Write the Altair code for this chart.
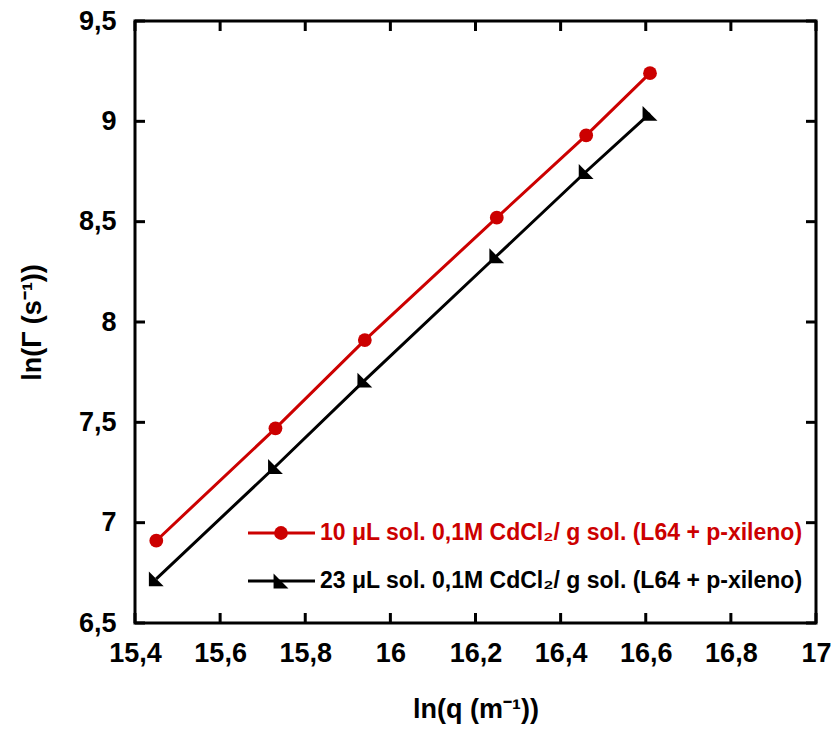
import altair as alt
import pandas as pd

# ---- data ----
ln_q = [15.45, 15.73, 15.94, 16.25, 16.46, 16.61]
ln_gamma_10 = [6.91, 7.47, 7.91, 8.52, 8.93, 9.24]
ln_gamma_23 = [6.72, 7.28, 7.71, 8.33, 8.75, 9.04]
label_10 = "10 μL sol. 0,1M CdCl₂/ g sol. (L64 + p-xileno)"
label_23 = "23 μL sol. 0,1M CdCl₂/ g sol. (L64 + p-xileno)"
x_ticks = [15.4, 15.6, 15.8, 16.0, 16.2, 16.4, 16.6, 16.8, 17.0]
y_ticks = [6.5, 7.0, 7.5, 8.0, 8.5, 9.0, 9.5]

RED = "#cc0000"
BLACK = "#000000"
FONT = "Liberation Sans"
W, H = 681, 602
TICK = 10

df10 = pd.DataFrame({"lnq": ln_q, "lng": ln_gamma_10})
df23 = pd.DataFrame({"lnq": ln_q, "lng": ln_gamma_23})
dfx = pd.DataFrame({"lnq": x_ticks})
dfy = pd.DataFrame({"lng": y_ticks})

xscale = alt.Scale(domain=[15.4, 17.0], nice=False, zero=False)
yscale = alt.Scale(domain=[6.5, 9.5], nice=False, zero=False)
lab = "replace(format(datum.value, '.1~f'), '.', ',')"

xaxis = alt.Axis(values=x_ticks, labelExpr=lab, ticks=False, domain=False, grid=False,
                 labelFont=FONT, labelFontSize=27, labelFontWeight="bold", labelColor="black",
                 labelPadding=17, labelFlush=False, labelOverlap=False,
                 title="ln(q (m⁻¹))", titleFont=FONT, titleFontSize=27, titleFontWeight="bold",
                 titleColor="black", titlePadding=30)
yaxis = alt.Axis(values=y_ticks, labelExpr=lab, ticks=False, domain=False, grid=False,
                 labelFont=FONT, labelFontSize=27, labelFontWeight="bold", labelColor="black",
                 labelPadding=19, labelFlush=False, labelOverlap=False,
                 title="ln(Γ (s⁻¹))", titleFont=FONT, titleFontSize=27, titleFontWeight="bold",
                 titleColor="black", titlePadding=32)

X = alt.X("lnq:Q", scale=xscale, axis=xaxis)
Y = alt.Y("lng:Q", scale=yscale, axis=yaxis)

tri = "M -1 -1 L -1 1 L 1 1 Z"

line10 = alt.Chart(df10).mark_line(color=RED, strokeWidth=3).encode(x=X, y=Y)
pts10 = alt.Chart(df10).mark_point(shape="circle", filled=True, color=RED, size=190, opacity=1).encode(x=X, y=Y)
line23 = alt.Chart(df23).mark_line(color=BLACK, strokeWidth=3).encode(x=X, y=Y)
pts23 = alt.Chart(df23).mark_point(shape=tri, filled=True, color=BLACK, size=220, opacity=1).encode(x=X, y=Y)

# inward ticks on all four sides
tb = alt.Chart(dfx).mark_rule(color="black", strokeWidth=3).encode(x=X, y=alt.value(H), y2=alt.value(H - TICK))
tt = alt.Chart(dfx).mark_rule(color="black", strokeWidth=3).encode(x=X, y=alt.value(0), y2=alt.value(TICK))
tl = alt.Chart(dfy).mark_rule(color="black", strokeWidth=3).encode(y=Y, x=alt.value(0), x2=alt.value(TICK))
tr = alt.Chart(dfy).mark_rule(color="black", strokeWidth=3).encode(y=Y, x=alt.value(W), x2=alt.value(W - TICK))

# legend (inside plot)
leg = pd.DataFrame({"label": [label_10]})
leg2 = pd.DataFrame({"label": [label_23]})

def legend_item(d, color, yy, shape, size):
    ln = alt.Chart(d).mark_rule(color=color, strokeWidth=3).encode(
        x=alt.value(113), x2=alt.value(180), y=alt.value(yy))
    pt = alt.Chart(d).mark_point(shape=shape, filled=True, color=color, size=size, opacity=1).encode(
        x=alt.value(146), y=alt.value(yy))
    tx = alt.Chart(d).mark_text(align="left", baseline="middle", font=FONT, fontSize=23,
                                fontWeight="bold", color=color).encode(
        x=alt.value(185), y=alt.value(yy), text="label:N")
    return ln + pt + tx

chart = alt.layer(
    tb, tt, tl, tr,
    line10, line23, pts10, pts23,
    legend_item(leg, RED, 512, "circle", 190),
    legend_item(leg2, BLACK, 560, tri, 220),
).properties(
    width=W, height=H,
    autosize=alt.AutoSizeParams(type="none"),
    padding={"left": 135, "top": 21, "right": 18, "bottom": 106},
    background="white",
).configure_view(stroke="black", strokeWidth=3)

chart.save("out.html", embed_options={"renderer": "svg", "actions": False})
